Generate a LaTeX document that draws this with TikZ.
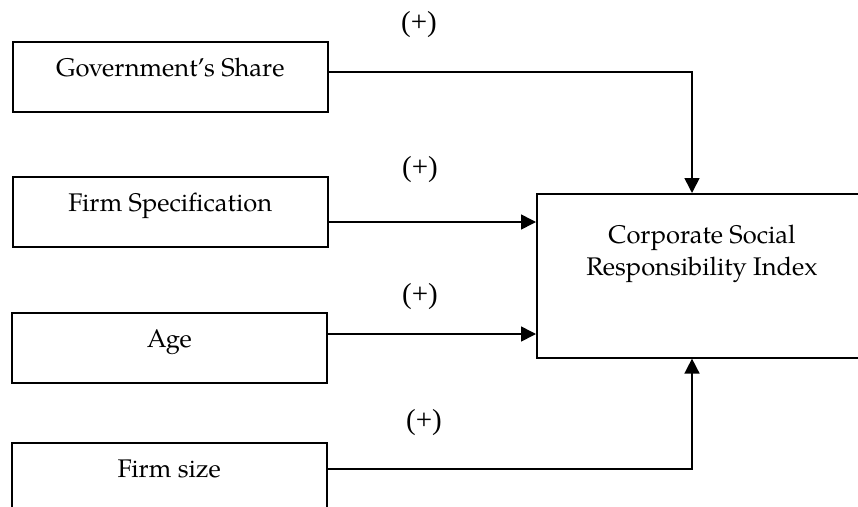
\documentclass[tikz,border=0pt]{standalone}
\usepackage{fontspec}
\setmainfont{texgyrepagella}[Extension=.otf,UprightFont=*-regular]
\newfontfamily\signfont{Liberation Serif}
\usetikzlibrary{arrows.meta}
\tikzset{
  box/.style={draw, line width=1.6pt, rectangle, inner sep=0pt, minimum width=315pt,
    minimum height=70pt, text height=35pt, text depth=35pt, anchor=north west,
    font=\fontsize{25.5}{30}\selectfont},
  arr/.style={line width=1.6pt, -{Triangle[length=15pt,width=15pt]}},
  sign/.style={font=\signfont\fontsize{29}{32}\selectfont, inner sep=0pt}
}
\begin{document}
\begin{tikzpicture}[x=1pt,y=-1pt]
\useasboundingbox (0,0) rectangle (858,506);
\clip (0,0) rectangle (858,506);
\node[box] (gov) at (12,41) {Government’s Share};
\node[box] (fs) at (12,176) {Firm Specification};
\node[box] (age) at (11,312) {Age};
\node[box] (size) at (11,442) {Firm size};
\node[draw, line width=1.6pt, rectangle, inner sep=0pt, minimum width=332pt, minimum height=164pt, anchor=north west] (csr) at (536,193) {};
\node[align=center, font=\fontsize{25.5}{32}\selectfont, inner sep=0pt] (csrtext) at (702,254) {Corporate Social\\Responsibility Index};
\coordinate (cx) at (692,0);
\coordinate (g1) at (0,72);
\coordinate (f1) at (0,222);
\coordinate (a1) at (0,334);
\coordinate (s1) at (0,469);
\draw[arr] (gov.east |- g1) -| (csr.north -| cx);
\draw[arr] (fs.east |- f1) -- (csr.west |- f1);
\draw[arr] (age.east |- a1) -- (csr.west |- a1);
\draw[arr] (size.east |- s1) -| (csr.south -| cx);
\node[sign] (p1) at (419,25) {(+)};
\node[sign] (p2) at (420,170) {(+)};
\node[sign] (p3) at (420,297) {(+)};
\node[sign] (p4) at (424,423) {(+)};
\end{tikzpicture}
\end{document}
